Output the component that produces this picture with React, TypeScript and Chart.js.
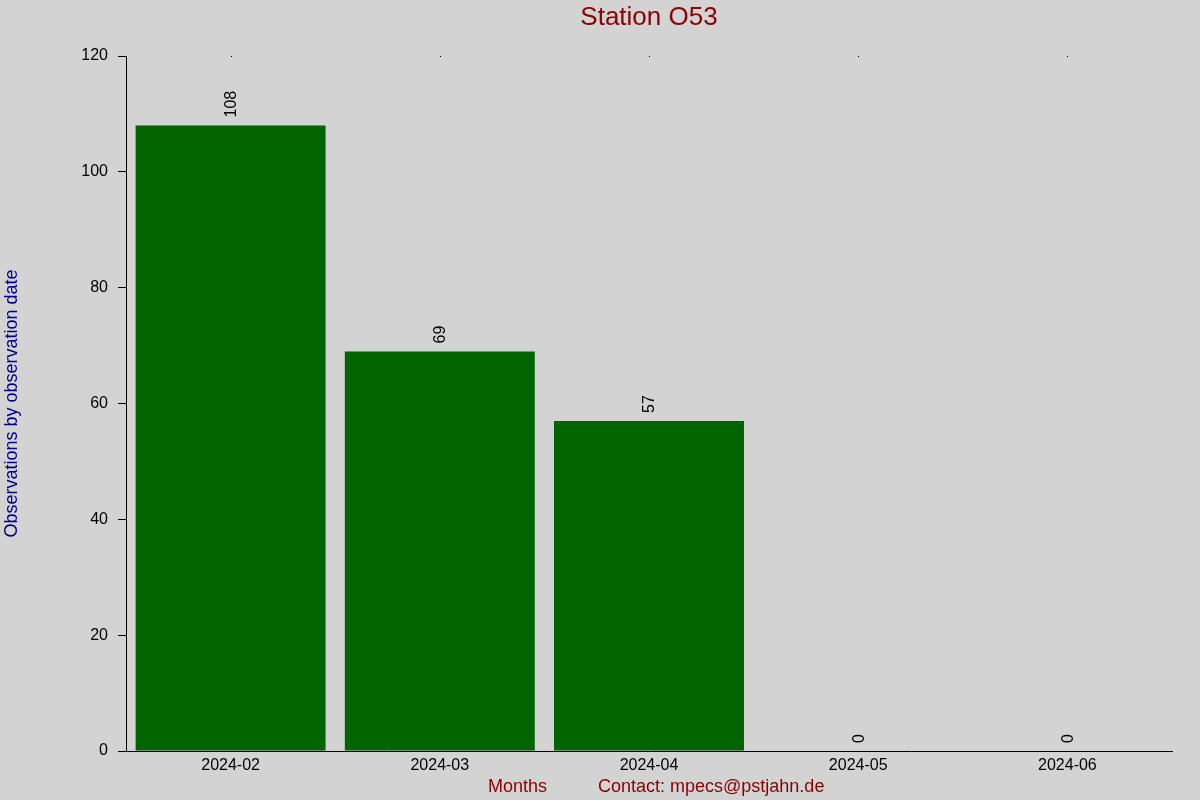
import React, { useEffect, useRef } from "react";
import Chart from "chart.js/auto";

const months = ["2024-02", "2024-03", "2024-04", "2024-05", "2024-06"];
const observations = [108, 69, 57, 0, 0];

const chartTitle = "Station O53";
const yTitle = "Observations by observation date";
const xTitle = "Months";
const contact = "Contact: mpecs@pstjahn.de";

const FONT = "'Liberation Sans', Arial, sans-serif";

const decorPlugin = {
  id: "decor",
  beforeDraw(chart: any) {
    const { ctx, width, height } = chart;
    ctx.save();
    ctx.fillStyle = "#d3d3d3";
    ctx.fillRect(0, 0, width, height);
    ctx.restore();
  },
  afterDraw(chart: any) {
    const { ctx, chartArea, scales } = chart;
    const meta = chart.getDatasetMeta(0);
    const cx = (chartArea.left + chartArea.right) / 2;

    ctx.save();
    // value labels above bars, rotated
    ctx.fillStyle = "#000";
    ctx.font = `16px ${FONT}`;
    meta.data.forEach((bar: any, i: number) => {
      ctx.save();
      ctx.translate(bar.x + 1, bar.y - 8);
      ctx.rotate(-Math.PI / 2);
      ctx.textAlign = "left";
      ctx.textBaseline = "middle";
      ctx.fillText(String(observations[i]), 0, 0);
      ctx.restore();
    });

    // tiny mirror ticks on the top edge
    scales.x.ticks.forEach((_: any, i: number) => {
      const x = scales.x.getPixelForTick(i);
      ctx.fillRect(Math.round(x), chartArea.top, 1, 1);
    });

    // title
    ctx.fillStyle = "#8b0000";
    ctx.font = `26px ${FONT}`;
    ctx.textAlign = "center";
    ctx.textBaseline = "middle";
    ctx.fillText(chartTitle, cx, 18);

    // x label + contact
    ctx.font = `18px ${FONT}`;
    ctx.textBaseline = "alphabetic";
    ctx.textAlign = "right";
    ctx.fillText(xTitle, cx - 102, 792);
    ctx.textAlign = "left";
    ctx.fillText(contact, cx - 51, 792);

    // y label
    ctx.fillStyle = "#00008b";
    ctx.translate(12, (chartArea.top + chartArea.bottom) / 2);
    ctx.rotate(-Math.PI / 2);
    ctx.textAlign = "center";
    ctx.textBaseline = "middle";
    ctx.fillText(yTitle, 0, 0);
    ctx.restore();
  },
};

const App = () => {
  const canvasRef = useRef<HTMLCanvasElement>(null);

  useEffect(() => {
    document.body.style.margin = "0";
    if (!canvasRef.current) return;

    const chart = new Chart(canvasRef.current, {
      type: "bar",
      data: {
        labels: months,
        datasets: [
          {
            data: observations,
            backgroundColor: "#006400",
            borderWidth: 0,
            barPercentage: 0.908,
            categoryPercentage: 1,
          },
        ],
      },
      options: {
        animation: false,
        responsive: true,
        maintainAspectRatio: false,
        layout: { padding: { top: 56, right: 28, left: 0, bottom: 0 } },
        plugins: {
          legend: { display: false },
          title: { display: false },
          tooltip: { enabled: false },
        },
        scales: {
          x: {
            afterFit: (s: any) => {
              s.height = 49;
            },
            grid: { display: false, drawTicks: false },
            border: { display: true, color: "#000", width: 1 },
            ticks: {
              color: "#000",
              font: { family: FONT, size: 16 },
              padding: 5,
              maxRotation: 0,
            },
          },
          y: {
            min: 0,
            max: 120,
            afterFit: (s: any) => {
              s.width = 126;
            },
            grid: {
              display: true,
              drawOnChartArea: false,
              drawTicks: true,
              tickLength: 8,
              color: "#000",
            },
            border: { display: true, color: "#000", width: 1 },
            ticks: {
              stepSize: 20,
              color: "#000",
              font: { family: FONT, size: 16 },
              padding: 10,
            },
          },
        },
      },
      plugins: [decorPlugin],
    });

    return () => {
      chart.destroy();
    };
  }, []);

  return (
    <div style={{ width: 1200, height: 800, position: "relative" }}>
      <canvas ref={canvasRef} />
    </div>
  );
};

export default App;
